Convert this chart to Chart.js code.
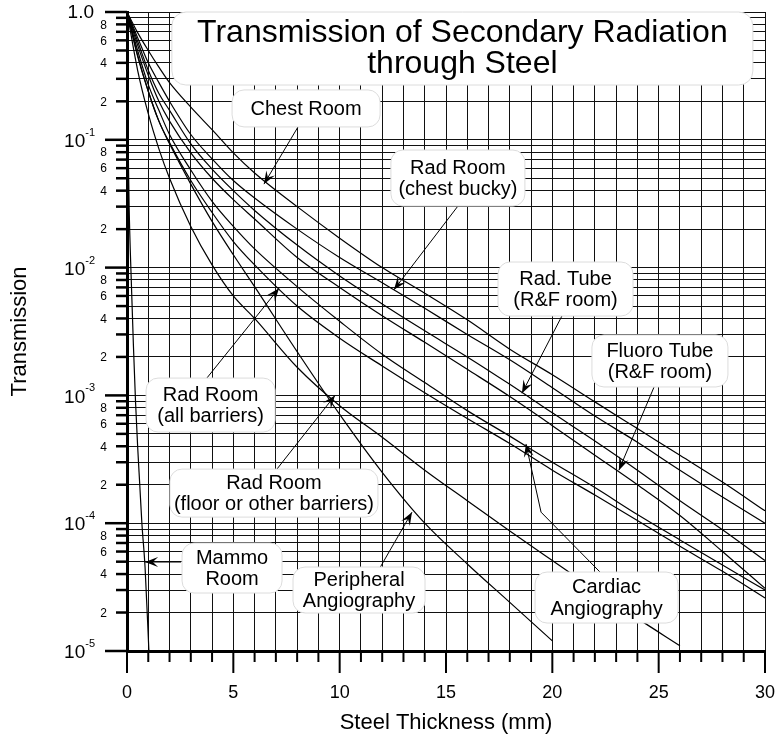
<!DOCTYPE html>
<html>
<head>
<meta charset="utf-8">
<script src="https://cdn.jsdelivr.net/npm/chart.js@4.4.1/dist/chart.umd.min.js"></script>
<style>
  html, body { margin: 0; padding: 0; background: #fff; }
</style>
</head>
<body>
<canvas id="chart" width="775" height="738"></canvas>
<script>
// ===== DATA =====
const steelMm = [0, 0.5, 1, 1.5, 2, 3, 4, 5, 6, 8, 10, 12, 14, 16, 18, 20, 22, 24, 26, 28, 30];

const chestRoom      = [1, 0.69, 0.5, 0.37, 0.28, 0.18, 0.12, 0.079, 0.055, 0.03, 0.017, 0.01, 6.3e-3, 3.9e-3, 2.3e-3, 1.45e-3, 8.9e-4, 5.5e-4, 3.4e-4, 2.1e-4, 1.25e-4];
const radChestBucky  = [1, 0.63, 0.4, 0.28, 0.2, 0.11, 0.071, 0.048, 0.035, 0.02, 0.012, 7.6e-3, 4.8e-3, 3.0e-3, 1.9e-3, 1.15e-3, 6.9e-4, 4.3e-4, 2.6e-4, 1.6e-4, 1.0e-4];
const radTubeRF      = [1, 0.59, 0.35, 0.23, 0.17, 0.093, 0.059, 0.04, 0.028, 0.015, 8.6e-3, 5.2e-3, 3.2e-3, 2.0e-3, 1.22e-3, 7.3e-4, 4.4e-4, 2.6e-4, 1.5e-4, 8.9e-5, 5.1e-5];
const fluoroTubeRF   = [1, 0.55, 0.32, 0.2, 0.14, 0.079, 0.05, 0.034, 0.024, 0.012, 7.0e-3, 4.2e-3, 2.6e-3, 1.6e-3, 9.8e-4, 5.8e-4, 3.4e-4, 2.0e-4, 1.15e-4, 6.0e-5, 3.1e-5];
const radAllBarriers = [1, 0.46, 0.24, 0.14, 0.095, 0.048, 0.027, 0.016, 0.0105, 5.0e-3, 2.8e-3, 1.7e-3, 1.05e-3, 6.6e-4, 4.2e-4, 2.6e-4, 1.66e-4, 1.05e-4, 6.6e-5, 4.2e-5, 2.6e-5];
const cardiacAngio   = [1, 0.5, 0.27, 0.17, 0.11, 0.058, 0.033, 0.021, 0.014, 7.1e-3, 3.8e-3, 2.1e-3, 1.26e-3, 7.6e-4, 4.8e-4, 3.0e-4, 1.9e-4, 1.17e-4, 7.4e-5, 4.7e-5, 3.0e-5];
const radFloorOther  = [1, 0.35, 0.16, 0.085, 0.05, 0.021, 0.0105, 6.0e-3, 4.0e-3, 1.66e-3, 8.3e-4, 4.7e-4, 2.6e-4, 1.5e-4, 8.7e-5, 5.1e-5, 3.0e-5, 1.8e-5, 1.1e-5, null, null];
const peripheralAngio = [1, 0.45, 0.24, 0.14, 0.093, 0.045, 0.023, 0.0126, 7.1e-3, 2.2e-3, 7.1e-4, 2.5e-4, 1.0e-4, 4.8e-5, 2.4e-5, 1.2e-5, null, null, null, null, null];

const mammoMm   = [0, 0.05, 0.1, 0.2, 0.3, 0.4, 0.5, 0.6, 0.7, 0.85, 1.03];
const mammoRoom = [1, 0.1, 0.03, 8e-3, 2.5e-3, 9e-4, 4e-4, 2e-4, 1e-4, 4.5e-5, 1e-5];

// axis ticks
const xGridMm     = Array.from({ length: 31 }, (_, i) => i);
const xLabelEvery = 5;
const yDecades    = [1, 1e-1, 1e-2, 1e-3, 1e-4, 1e-5];
const yDecadeExp  = ['1.0', '-1', '-2', '-3', '-4', '-5'];
const yMinorSteps = [2, 3, 4, 5, 6, 7, 8, 9];
const yMinorLabelled = [2, 4, 6, 8];

// ===== ANNOTATIONS (positions in data units: [mm, transmission]) =====
const titleLines = ['Transmission of Secondary Radiation', 'through Steel'];
const titleBox = { at: [15.77, 0.518], w: 581, h: 73 };

const notes = [
  { lines: ['Chest Room'], at: [8.42, 0.176], w: 148, h: 37, path: [[8.04, 0.126], [6.44, 0.045]] },
  { lines: ['Rad Room', '(chest bucky)'], at: [15.56, 0.0502], w: 134, h: 56, path: [[15.56, 0.0303], [12.55, 6.7e-3]] },
  { lines: ['Rad. Tube', '(R&F room)'], at: [20.62, 6.8e-3], w: 135, h: 54, path: [[20.45, 4.18e-3], [18.57, 1.04e-3]] },
  { lines: ['Fluoro Tube', '(R&F room)'], at: [25.06, 1.86e-3], w: 136, h: 52, path: [[24.78, 1.16e-3], [23.13, 2.6e-4]] },
  { lines: ['Rad Room', '(all barriers)'], at: [3.93, 8.4e-4], w: 129, h: 54, path: [[3.76, 1.37e-3], [7.15, 6.9e-3]] },
  { lines: ['Rad Room', '(floor or other barriers)'], at: [6.91, 1.72e-4], w: 208, h: 48, path: [[7.05, 2.65e-4], [9.78, 1.0e-3]] },
  { lines: ['Mammo', 'Room'], at: [4.94, 4.46e-5], w: 100, h: 50, path: [[2.54, 4.97e-5], [0.85, 4.97e-5]] },
  { lines: ['Peripheral', 'Angiography'], at: [10.91, 3.0e-5], w: 132, h: 46, path: [[11.9, 4.5e-5], [13.4, 1.22e-4]] },
  { lines: ['Cardiac', 'Angiography'], at: [22.55, 2.62e-5], w: 143, h: 51, path: [[22.24, 4.15e-5], [19.47, 1.22e-4], [18.76, 4.17e-4]] },
];

const FONT = "'Liberation Sans', Arial, Helvetica, sans-serif";
Chart.defaults.font.family = FONT;
Chart.defaults.color = '#000';

const pts = (xs, ys) => xs.map((x, i) => ({ x, y: ys[i] })).filter(p => p.y != null);

const curve = (label, xs, ys) => ({
  label,
  data: pts(xs, ys),
  borderColor: '#000',
  borderWidth: 1.2,
  pointRadius: 0,
  fill: false,
  cubicInterpolationMode: 'monotone',
});

function roundBox(ctx, x, y, w, h, r) {
  ctx.beginPath();
  ctx.moveTo(x + r, y);
  ctx.arcTo(x + w, y, x + w, y + h, r);
  ctx.arcTo(x + w, y + h, x, y + h, r);
  ctx.arcTo(x, y + h, x, y, r);
  ctx.arcTo(x, y, x + w, y, r);
  ctx.closePath();
  ctx.fillStyle = '#fff';
  ctx.fill();
  ctx.strokeStyle = '#dcdcdc';
  ctx.lineWidth = 1;
  ctx.stroke();
}

function arrowHead(ctx, x1, y1, x2, y2) {
  const a = Math.atan2(y2 - y1, x2 - x1);
  const L = 13, W = 5;
  const c = Math.cos(a), s = Math.sin(a);
  ctx.beginPath();
  ctx.moveTo(x2, y2);
  ctx.lineTo(x2 - L * c + W * s, y2 - L * s - W * c);
  ctx.lineTo(x2 - 0.6 * L * c, y2 - 0.6 * L * s);
  ctx.lineTo(x2 - L * c - W * s, y2 - L * s + W * c);
  ctx.closePath();
  ctx.fill();
}

const decorations = {
  id: 'decorations',
  afterDatasetsDraw(chart) {
    const { ctx, scales: { x, y } } = chart;
    const P = ([mm, t]) => [x.getPixelForValue(mm), y.getPixelForValue(t)];
    ctx.save();

    // title box
    const [tx, ty] = P(titleBox.at);
    roundBox(ctx, tx - titleBox.w / 2, ty - titleBox.h / 2, titleBox.w, titleBox.h, 14);
    ctx.fillStyle = '#000';
    ctx.font = `32px ${FONT}`;
    ctx.textAlign = 'center';
    ctx.textBaseline = 'middle';
    ctx.fillText(titleLines[0], tx, ty - 15);
    ctx.fillText(titleLines[1], tx, ty + 16);

    // arrows first, then label boxes on top
    notes.forEach(n => {
      const p = n.path.map(P);
      ctx.beginPath();
      ctx.moveTo(p[0][0], p[0][1]);
      p.slice(1).forEach(q => ctx.lineTo(q[0], q[1]));
      ctx.strokeStyle = '#000';
      ctx.lineWidth = 1;
      ctx.stroke();
      const a = p[p.length - 2], b = p[p.length - 1];
      ctx.fillStyle = '#000';
      arrowHead(ctx, a[0], a[1], b[0], b[1]);
    });
    notes.forEach(n => {
      const [cx, cy] = P(n.at);
      roundBox(ctx, cx - n.w / 2, cy - n.h / 2, n.w, n.h, 12);
      ctx.fillStyle = '#000';
      ctx.font = `20px ${FONT}`;
      ctx.textAlign = 'center';
      ctx.textBaseline = 'middle';
      const step = 21.5;
      const y0 = cy - (n.lines.length - 1) * step / 2;
      n.lines.forEach((l, i) => ctx.fillText(l, cx, y0 + i * step + 1));
    });
    ctx.restore();
  },
  afterDraw(chart) {
    const { ctx, scales: { x, y }, chartArea } = chart;
    ctx.save();
    ctx.strokeStyle = '#000';
    ctx.fillStyle = '#000';

    // y tick marks + labels
    const left = chartArea.left;
    ctx.lineWidth = 2.5;
    yDecades.forEach((d, k) => {
      const py = y.getPixelForValue(d);
      ctx.beginPath(); ctx.moveTo(left - 22, py); ctx.lineTo(left, py); ctx.stroke();
      if (k === 0) {
        ctx.font = `19px ${FONT}`;
        ctx.textAlign = 'right'; ctx.textBaseline = 'middle';
        ctx.fillText(yDecadeExp[k], 94, py + 1);
      } else {
        ctx.font = `11px ${FONT}`;
        const sw = ctx.measureText(yDecadeExp[k]).width;
        ctx.textAlign = 'left'; ctx.textBaseline = 'middle';
        ctx.fillText(yDecadeExp[k], 95 - sw, py - 7);
        ctx.font = `19px ${FONT}`;
        ctx.textAlign = 'right';
        ctx.fillText('10', 95 - sw, py + 2);
      }
      if (k < yDecades.length - 1) {
        yMinorSteps.forEach(m => {
          const v = d * m / 10;
          const pm = y.getPixelForValue(v);
          ctx.beginPath(); ctx.moveTo(left - 11, pm); ctx.lineTo(left, pm); ctx.stroke();
          if (yMinorLabelled.includes(m)) {
            ctx.font = `12px ${FONT}`;
            ctx.textAlign = 'right'; ctx.textBaseline = 'middle';
            ctx.fillText(String(m), 107, pm + 1);
          }
        });
      }
    });

    // x tick marks
    const bottom = chartArea.bottom;
    ctx.lineWidth = 2;
    xGridMm.forEach(v => {
      const px = x.getPixelForValue(v);
      const len = v % xLabelEvery === 0 ? 22 : 11;
      ctx.beginPath(); ctx.moveTo(px, bottom); ctx.lineTo(px, bottom + len); ctx.stroke();
    });
    ctx.restore();
  }
};

const yGridValues = [];
yDecades.forEach((d, k) => {
  yGridValues.push(d);
  if (k < yDecades.length - 1) yMinorSteps.forEach(m => yGridValues.push(d * m / 10));
});

new Chart(document.getElementById('chart'), {
  type: 'line',
  data: {
    datasets: [
      curve('Chest Room', steelMm, chestRoom),
      curve('Rad Room (chest bucky)', steelMm, radChestBucky),
      curve('Rad. Tube (R&F room)', steelMm, radTubeRF),
      curve('Fluoro Tube (R&F room)', steelMm, fluoroTubeRF),
      curve('Rad Room (all barriers)', steelMm, radAllBarriers),
      curve('Cardiac Angiography', steelMm, cardiacAngio),
      curve('Rad Room (floor or other barriers)', steelMm, radFloorOther),
      curve('Peripheral Angiography', steelMm, peripheralAngio),
      curve('Mammo Room', mammoMm, mammoRoom),
    ]
  },
  options: {
    responsive: false,
    animation: false,
    devicePixelRatio: 1,
    layout: { padding: { top: 12, right: 10, left: 0, bottom: 0 } },
    plugins: { legend: { display: false }, tooltip: { enabled: false } },
    scales: {
      x: {
        type: 'linear', min: 0, max: 30,
        afterBuildTicks: s => { s.ticks = xGridMm.map(v => ({ value: v })); },
        afterFit: s => { s.height = 87; s.paddingLeft = 0; s.paddingRight = 0; },
        grid: { color: '#111', lineWidth: 1, drawTicks: false },
        border: { color: '#000', width: 3 },
        ticks: {
          autoSkip: false, maxRotation: 0, padding: 31, color: '#000',
          font: { size: 18 },
          callback: v => (v % xLabelEvery === 0 ? String(v) : '')
        },
        title: { display: true, text: 'Steel Thickness (mm)', color: '#000', font: { size: 22 }, padding: { top: 0, bottom: 2 } }
      },
      y: {
        type: 'logarithmic', min: 1e-5, max: 1,
        afterBuildTicks: s => { s.ticks = yGridValues.map(v => ({ value: v })); },
        afterFit: s => { s.width = 127; s.paddingTop = 0; s.paddingBottom = 0; },
        grid: { color: '#111', lineWidth: 1, drawTicks: false },
        border: { color: '#000', width: 3 },
        ticks: { display: false },
        title: { display: true, text: 'Transmission', color: '#000', font: { size: 22 }, padding: { top: 7, bottom: 0 } }
      }
    }
  },
  plugins: [decorations]
});
</script>
</body>
</html>
